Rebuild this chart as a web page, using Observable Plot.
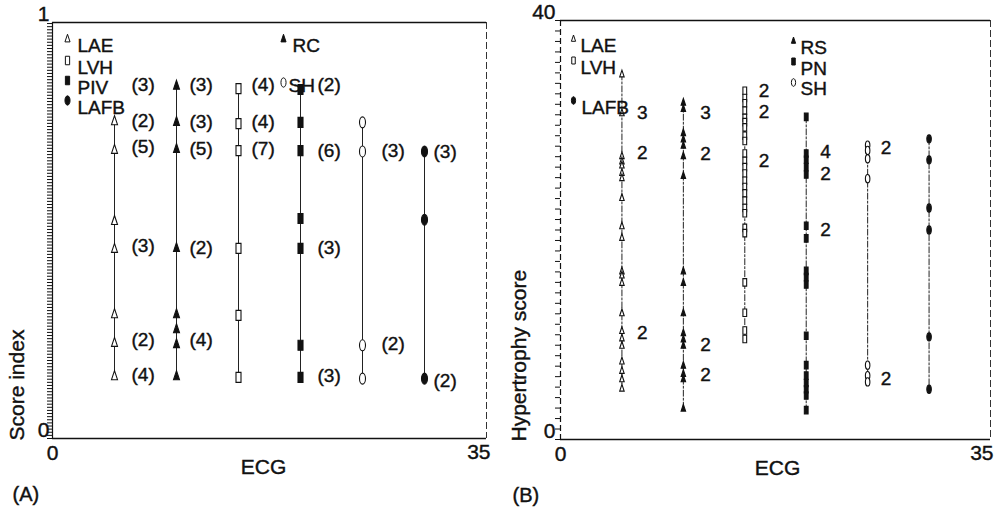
<!DOCTYPE html>
<html><head><meta charset="utf-8">
<script src="https://cdn.jsdelivr.net/npm/d3@7"></script>
<script src="https://cdn.jsdelivr.net/npm/@observablehq/plot@0.6"></script>
<style>
html,body{margin:0;padding:0;background:#fff;}
#wrap{position:relative;width:996px;height:514px;overflow:hidden;background:#fff;}
#pa,#pb{position:absolute;top:0;}
#pa{left:0}#pb{left:498px}
svg text{font-family:"Liberation Sans",Arial,Helvetica,sans-serif;stroke:#111;stroke-width:0.4px;}
</style></head><body>
<div id="wrap"><div id="pa"></div><div id="pb"></div></div>
<script>
// ---------------- DATA ----------------
const ecgColumns = [5, 10, 15, 20, 25, 30];
const ecgTicks = [0, 35];

// Panel A — Score index
const seriesA = ["LAE", "RC", "LVH", "PIV", "SH", "LAFB"];
const scoreIndexTicks = [0, 1];
const scoreA_LAE  = [0.764, 0.695, 0.524, 0.457, 0.300, 0.231, 0.151];
const scoreA_RC   = [0.849, 0.762, 0.697, 0.459, 0.300, 0.264, 0.228, 0.151];
const scoreA_LVH  = [0.841, 0.757, 0.692, 0.457, 0.296, 0.147];
const scoreA_PIV  = [0.839, 0.760, 0.692, 0.529, 0.457, 0.224, 0.147];
const scoreA_SH   = [0.760, 0.690, 0.224, 0.144];
const scoreA_LAFB = [0.690, 0.526, 0.144];
// [score, count]
const countsA_LAE  = [[0.849, 3], [0.764, 2], [0.702, 5], [0.462, 3], [0.236, 2], [0.154, 4]];
const countsA_RC   = [[0.849, 3], [0.762, 3], [0.697, 5], [0.459, 2], [0.236, 4]];
const countsA_LVH  = [[0.849, 4], [0.760, 4], [0.697, 7]];
const countsA_PIV  = [[0.849, 2], [0.692, 6], [0.459, 3], [0.151, 3]];
const countsA_SH   = [[0.692, 3], [0.228, 2]];
const countsA_LAFB = [[0.688, 3], [0.139, 2]];

// Panel B — Hypertrophy score
const seriesB = ["LAE", "RS", "LVH", "PN", "SH", "LAFB"];
const hypertrophyTicks = [0, 40];
const scoreB_LAE  = [34.9, 31.2, 27.1, 26.6, 26.2, 25.5, 25.0, 23.1, 20.4, 19.3, 16.1, 15.7, 15.0, 12.1, 10.4, 9.7, 9.0, 7.5, 6.6, 5.8, 4.9];
const scoreB_RS   = [32.2, 31.6, 29.3, 28.7, 28.1, 27.1, 25.2, 16.1, 15.0, 12.1, 10.2, 9.6, 9.0, 7.1, 6.3, 5.8, 3.0];
const scoreB_LVH  = [33.3, 32.6, 32.1, 31.4, 30.7, 30.3, 29.8, 29.0, 28.5, 27.3, 26.6, 26.0, 25.4, 24.7, 24.1, 23.5, 22.8, 22.1, 21.6, 20.2, 19.7, 15.0, 12.1, 10.4, 9.6];
const scoreB_PN   = [30.8, 27.3, 26.7, 26.0, 25.3, 20.4, 19.2, 16.1, 15.5, 14.8, 9.9, 7.1, 6.1, 5.4, 4.8, 4.2, 2.8];
const scoreB_SH   = [28.1, 27.6, 26.8, 24.9, 7.1, 6.1, 5.5];
const scoreB_LAFB = [28.7, 26.7, 22.1, 20.0, 9.8, 4.8];
const countsB_LAE  = [[31.2, 3], [27.4, 2], [10.2, 2]];
const countsB_RS   = [[31.2, 3], [27.3, 2], [9.0, 2], [6.2, 2]];
const countsB_LVH  = [[33.3, 2], [31.3, 2], [26.6, 2]];
const countsB_PN   = [[27.5, 4], [25.4, 2], [20.0, 2]];
const countsB_SH   = [[27.8, 2], [5.8, 2]];
const countsB_LAFB = [];

// ---------------- STYLE ----------------
const INK = "#111";
function sc(size){ return Math.sqrt(size / Math.PI) / 4; }
const shapes = {
  tri: {draw(c, size){ const s = sc(size); c.moveTo(0, -5*s); c.lineTo(3*s, 4*s); c.lineTo(-3*s, 4*s); c.closePath(); }},
  rect: {draw(c, size){ const s = sc(size); c.rect(-2.5*s, -5*s, 5*s, 10*s); }},
  ell: {draw(c, size){ const s = sc(size); const rx = 3*s, ry = 5.5*s, k = 0.5523;
    c.moveTo(0, -ry);
    c.bezierCurveTo(k*rx, -ry, rx, -k*ry, rx, 0);
    c.bezierCurveTo(rx, k*ry, k*rx, ry, 0, ry);
    c.bezierCurveTo(-k*rx, ry, -rx, k*ry, -rx, 0);
    c.bezierCurveTo(-rx, -k*ry, -k*rx, -ry, 0, -ry);
    c.closePath(); }}
};
const markerStyle = {
  LAE: {shape: "tri", filled: false}, RC: {shape: "tri", filled: true}, RS: {shape: "tri", filled: true},
  LVH: {shape: "rect", filled: false}, PIV: {shape: "rect", filled: true}, PN: {shape: "rect", filled: true},
  SH: {shape: "ell", filled: false}, LAFB: {shape: "ell", filled: true}
};

function buildPanel(cfg){
  const yMax = cfg.yTicks[cfg.yTicks.length - 1];
  const marks = [];
  // frame
  marks.push(Plot.ruleY([yMax], {stroke: INK, strokeWidth: 1.3}));
  marks.push(Plot.ruleY([cfg.yTicks[0]], {stroke: INK, strokeWidth: 1.3}));
  marks.push(Plot.ruleX([ecgTicks[0]], {stroke: INK, strokeWidth: 1.2, strokeDasharray: cfg.leftDash}));
  marks.push(Plot.ruleX([ecgTicks[1]], {stroke: "#333", strokeWidth: 1, strokeDasharray: "7,3"}));
  marks.push(Plot.axisY({ticks: cfg.minorTicks, tickSize: 5, tickFormat: () => "", label: null, stroke: INK, strokeWidth: 1}));
  marks.push(Plot.axisY({ticks: cfg.yTicks, tickSize: 0, tickPadding: cfg.yTickPad, tickFormat: d => String(d), fontSize: 21, dy: -8, label: null, fill: INK}));
  marks.push(Plot.text([ecgTicks[0]], {x: d => d, text: d => String(d), frameAnchor: "bottom", dy: 21, fontSize: 21, fill: INK}));
  marks.push(Plot.text([ecgTicks[1]], {x: d => d, text: d => String(d), frameAnchor: "bottom", dy: 20, textAnchor: "end", dx: cfg.lastTickDx, fontSize: 21, fill: INK}));
  marks.push(Plot.text(["ECG"], {frameAnchor: "bottom", dy: 35, dx: cfg.ecgDx, fontSize: 21, fill: INK}));
  marks.push(Plot.text([cfg.yLabel], {frameAnchor: "bottom-left", rotate: -90, textAnchor: "start", dx: cfg.yLabelDx, dy: 2, fontSize: 21, fill: INK}));
  marks.push(Plot.text([cfg.panel], {frameAnchor: "bottom-left", textAnchor: "start", dx: cfg.panelDx, dy: 62, fontSize: 20, fill: INK}));

  cfg.series.forEach((name, i) => {
    const st = markerStyle[name];
    const rows = cfg.scores[i].map(v => ({ecg: ecgColumns[i], score: v}));
    marks.push(Plot.line(rows, {x: "ecg", y: "score", stroke: "#222", strokeWidth: 1, strokeDasharray: cfg.lineDash}));
    marks.push(Plot.dot(rows, {x: "ecg", y: "score", symbol: shapes[st.shape], r: cfg.r,
      fill: st.filled ? INK : "white", stroke: INK, strokeWidth: 1.1}));
    const crow = cfg.counts[i].map(([v, n]) => ({ecg: ecgColumns[i], score: v, label: cfg.fmt(n)}));
    marks.push(Plot.text(crow, {x: "ecg", y: "score", text: "label", textAnchor: "start",
      dx: cfg.countDx[i], fontSize: cfg.countSize, fill: INK}));
  });

  // legend
  cfg.legend.forEach(L => {
    const st = markerStyle[L.name];
    marks.push(Plot.dot([L.name], {frameAnchor: "top-left", dx: L.sx, dy: L.sy, symbol: shapes[st.shape], r: cfg.legendR,
      fill: st.filled ? INK : "white", stroke: INK, strokeWidth: 1}));
    marks.push(Plot.text([L.name], {frameAnchor: "top-left", dx: L.tx, dy: L.ty, textAnchor: "start", fontSize: cfg.legendSize, fill: INK}));
  });

  return Plot.plot({
    width: 498, height: 514,
    marginLeft: cfg.ml, marginRight: cfg.mr, marginTop: cfg.mt, marginBottom: cfg.mb,
    x: {domain: [ecgTicks[0], ecgTicks[1]], axis: null},
    y: {domain: [cfg.yTicks[0], yMax], axis: null},
    style: {background: "white", color: INK, fontFamily: '"Liberation Sans", Arial, sans-serif'},
    marks
  });
}

const panelA = buildPanel({
  series: seriesA,
  scores: [scoreA_LAE, scoreA_RC, scoreA_LVH, scoreA_PIV, scoreA_SH, scoreA_LAFB],
  counts: [countsA_LAE, countsA_RC, countsA_LVH, countsA_PIV, countsA_SH, countsA_LAFB],
  fmt: n => `(${n})`,
  yTicks: scoreIndexTicks, minorTicks: d3.range(0, 1.0001, 0.0075), yTickPad: 3,
  yLabel: "Score index", panel: "(A)",
  ml: 52, mr: 12, mt: 22, mb: 76,
  leftDash: null, lineDash: null, r: 4, legendR: 3.4,
  countDx: [17, 13, 13, 17, 19, 9], countSize: 19,
  lastTickDx: 4, ecgDx: -6, yLabelDx: -29, panelDx: -40,
  legendSize: 19,
  legend: [
    {name: "LAE", sx: 15, sy: 16, tx: 25, ty: 16},
    {name: "LVH", sx: 15, sy: 38, tx: 25, ty: 38},
    {name: "PIV", sx: 15, sy: 58, tx: 25, ty: 58},
    {name: "LAFB", sx: 15, sy: 78, tx: 25, ty: 78},
    {name: "RC", sx: 231, sy: 16, tx: 240, ty: 16},
    {name: "SH", sx: 231, sy: 60, tx: 236, ty: 56}
  ]
});

const panelB = buildPanel({
  series: seriesB,
  scores: [scoreB_LAE, scoreB_RS, scoreB_LVH, scoreB_PN, scoreB_SH, scoreB_LAFB],
  counts: [countsB_LAE, countsB_RS, countsB_LVH, countsB_PN, countsB_SH, countsB_LAFB],
  fmt: n => String(n),
  yTicks: hypertrophyTicks, minorTicks: d3.range(0, 40.001, 1), yTickPad: 5,
  yLabel: "Hypertrophy score", panel: "(B)",
  ml: 62, mr: 6, mt: 20, mb: 75,
  leftDash: "6,3", lineDash: "6,2,2,2", r: 3, legendR: 2.8,
  countDx: [15, 17, 14, 14, 13, 15], countSize: 19,
  lastTickDx: 3, ecgDx: 2, yLabelDx: -35, panelDx: -48,
  legendSize: 19,
  legend: [
    {name: "LAE", sx: 13, sy: 18, tx: 20, ty: 18},
    {name: "LVH", sx: 13, sy: 40, tx: 20, ty: 40},
    {name: "LAFB", sx: 13, sy: 80, tx: 21, ty: 80},
    {name: "RS", sx: 233, sy: 20, tx: 240, ty: 20},
    {name: "PN", sx: 233, sy: 41, tx: 240, ty: 41},
    {name: "SH", sx: 233, sy: 62, tx: 240, ty: 61}
  ]
});

document.getElementById("pa").appendChild(panelA);
document.getElementById("pb").appendChild(panelB);
</script>
</body></html>
